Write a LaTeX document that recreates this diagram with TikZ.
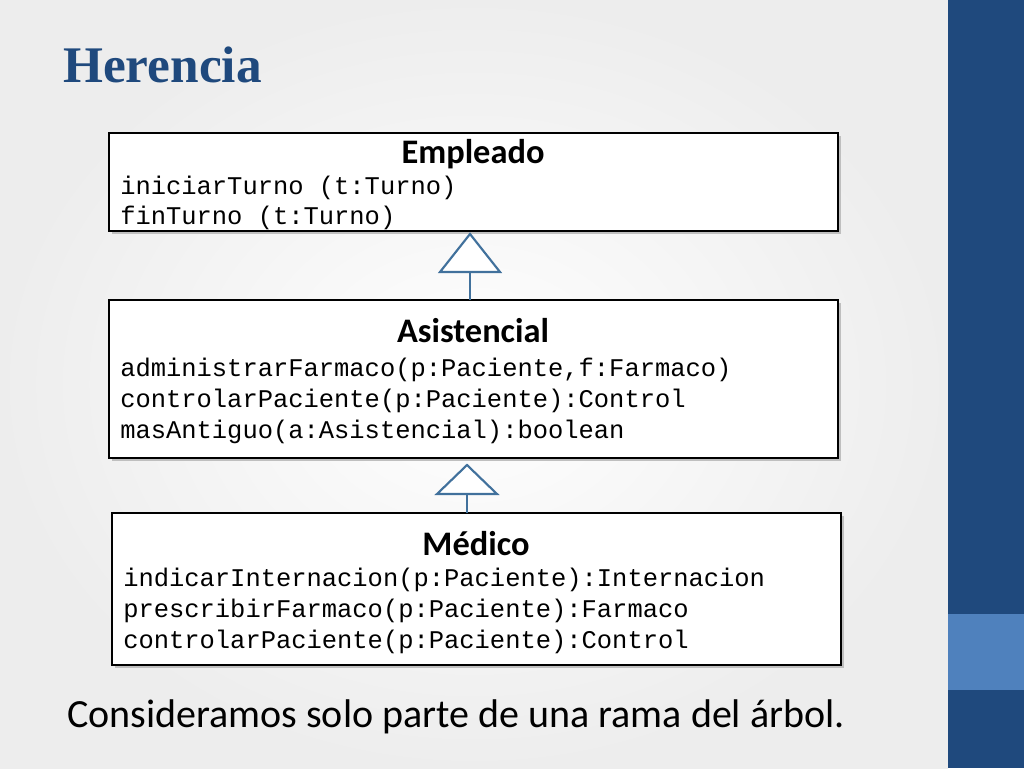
\documentclass[tikz,border=0pt]{standalone}
\usepackage{fontspec}
\setmainfont{Carlito}
\newfontfamily\monof{Liberation Mono}
\newfontfamily\titlef{Liberation Serif}
\begin{document}
\begin{tikzpicture}[x=0.75pt,y=-0.75pt,
  cls/.style={draw=black,line width=1.8pt,fill=white},
  cname/.style={font=\bfseries\fontsize{25.8}{28}\selectfont,anchor=base},
  meth/.style={font=\monof\fontsize{19.1}{22}\selectfont,anchor=base west,inner sep=0pt},
  gen/.style={draw={rgb,255:red,65;green,113;blue,156},line width=1.6pt,fill=white}]
\definecolor{dblue}{RGB}{31,73,125}
\definecolor{lblue}{RGB}{79,129,189}
\useasboundingbox (0,0) rectangle (1024,768);
\shade[inner color=white,outer color=gray!14] (0,0) rectangle (948,768);
\fill[dblue] (948,0) rectangle (1024,768);
\fill[lblue] (948,614) rectangle (1024,690);
\node[anchor=base west,inner sep=0pt,text=dblue,font=\titlef\bfseries\fontsize{38.5}{42}\selectfont] (title) at (63,82) {Herencia};
% boxes
\fill[gray!50] (112,136) rectangle (841,234);
\draw[cls] (109,133) rectangle (838,231);
\node[cname] (n1) at (473,163) {Empleado};
\node[meth] (m11) at (120,194) {iniciarTurno (t:Turno)};
\node[meth] (m12) at (120,224) {finTurno (t:Turno)};
\fill[gray!50] (112,303) rectangle (841,461);
\draw[cls] (109,300) rectangle (838,458);
\node[cname] (n2) at (473,342) {Asistencial};
\node[meth] (m21) at (120,376) {administrarFarmaco(p:Paciente,f:Farmaco)};
\node[meth] (m22) at (120,407) {controlarPaciente(p:Paciente):Control};
\node[meth] (m23) at (120,438) {masAntiguo(a:Asistencial):boolean};
\fill[gray!50] (115,516) rectangle (844,668);
\draw[cls] (112,513) rectangle (841,665);
\node[cname] (n3) at (476,555) {Médico};
\node[meth] (m31) at (123,586) {indicarInternacion(p:Paciente):Internacion};
\node[meth] (m32) at (123,617) {prescribirFarmaco(p:Paciente):Farmaco};
\node[meth] (m33) at (123,648) {controlarPaciente(p:Paciente):Control};
% generalization
\coordinate (a1) at (470,234); \coordinate (b1) at (470,272); \coordinate (t1) at (470,300);
\draw[gen] (b1) -- (t1);
\draw[gen] (a1) -- (500,272) -- (440,272) -- cycle;
\coordinate (a2) at (467,465); \coordinate (b2) at (467,494); \coordinate (t2) at (467,513);
\draw[gen] (b2) -- (t2);
\draw[gen] (a2) -- (497,494) -- (437,494) -- cycle;
\node[anchor=base,inner sep=0pt,font=\fontsize{30}{34}\selectfont] (cap) at (456,727) {Consideramos solo parte de una rama del árbol.};
\end{tikzpicture}
\end{document}
